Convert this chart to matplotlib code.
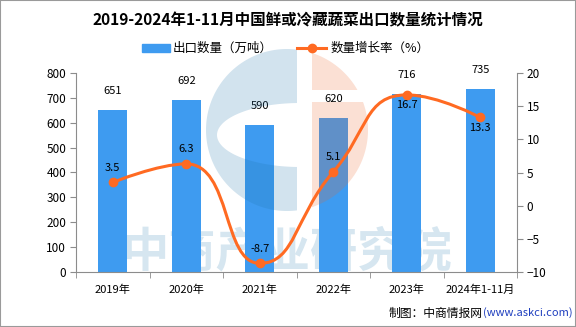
import matplotlib.pyplot as plt
import numpy as np
from matplotlib.path import Path
from matplotlib.patches import PathPatch, Rectangle
from matplotlib.lines import Line2D

plt.rcParams['font.family'] = ['Noto Sans CJK SC', 'DejaVu Sans']

years = ["2019年", "2020年", "2021年", "2022年", "2023年", "2024年1-11月"]
volume = [651, 692, 590, 620, 716, 735]        # 出口数量（万吨）
growth = [3.5, 6.3, -8.7, 5.1, 16.7, 13.3]     # 数量增长率（%）
label_below = [False, False, False, False, True, True]

BAR_C = "#3E9BF0"
LINE_C = "#FF6A22"
AX_C = "#8C8C8C"

W, H = 576, 327
fig = plt.figure(figsize=(W / 100, H / 100), dpi=100)
fig.patches.append(Rectangle((0, 0), 1, 1, transform=fig.transFigure,
                             fill=False, edgecolor="#9A9A9A", lw=1.5))

ax = fig.add_axes([76 / W, 1 - 272 / H, 441 / W, 199 / H])
x = np.arange(len(years))

# watermark text behind the bars
ax.text(2.38, 80, "中商产业研究院", ha="center", va="center", fontsize=34,
        fontweight="bold", color="#D6E6F0", zorder=0)

ax.bar(x, volume, width=0.4, color=BAR_C, zorder=2)
for xi, v in zip(x, volume):
    ax.annotate(str(v), (xi, v), xytext=(0, 10), textcoords="offset points",
                ha="center", va="bottom", fontsize=8)

ax.set_xlim(-0.5, len(years) - 0.5)
ax.set_ylim(0, 800)
ax.set_yticks(range(0, 801, 100))
ax.set_xticks(x)
ax.set_xticklabels(years)
ax.set_xticks(np.arange(-0.5, len(years)), minor=True)
ax.tick_params(axis="x", which="major", length=0, pad=9, labelsize=8)
ax.tick_params(axis="x", which="minor", length=4, color=AX_C)
ax.tick_params(axis="y", length=4, color=AX_C, labelsize=8.5, pad=3)
for s in ("top", "right"):
    ax.spines[s].set_visible(False)
for s in ("left", "bottom"):
    ax.spines[s].set_color(AX_C)

# logo overlay (pixel coordinates), semi transparent over the bars
wm = fig.add_axes([0, 0, 1, 1])
wm.set_xlim(0, W)
wm.set_ylim(H, 0)
wm.axis("off")
wm.set_zorder(ax.get_zorder() + 1)

cx, cy, R = 287, 130, 81
ex, ey, ea, eb = 300, 135, 83, 32
# blue "C": left part of the circle with an elliptical mouth
t_top = np.arccos((297 - cx) / R)
th = np.linspace(-t_top, -(2 * np.pi - t_top), 120)
outer = np.column_stack([cx + R * np.cos(th), cy + R * np.sin(th)])
s_lo = np.arccos((297 - ex) / ea)
ph = np.linspace(s_lo, 2 * np.pi - s_lo, 80)
mouth = np.column_stack([ex + ea * np.cos(ph), ey + eb * np.sin(ph)])
c_shape = np.vstack([outer, mouth])
wm.add_patch(plt.Polygon(c_shape, closed=True, color="#1E73AA", alpha=0.2, lw=0))
# salmon right part with a thin horizontal gap
for y0, y1 in [(cy - R, 90), (102, cy + R)]:
    yy = np.linspace(y0, y1, 60)
    xr = cx + np.sqrt(np.clip(R ** 2 - (yy - cy) ** 2, 0, None))
    xr = np.maximum(xr, 312)
    poly = np.vstack([np.column_stack([xr, yy]), [[312, y1], [312, y0]]])
    wm.add_patch(plt.Polygon(poly, closed=True, color="#EB6428", alpha=0.2, lw=0))

ax2 = ax.twinx()
ax2.set_zorder(wm.get_zorder() + 1)
ax2.patch.set_visible(False)
ax2.set_ylim(-10, 20)
ax2.set_yticks(range(-10, 21, 5))
ax2.tick_params(axis="y", length=4, color=AX_C, labelsize=8.5, pad=3)
for s in ("top", "left", "bottom"):
    ax2.spines[s].set_visible(False)
ax2.spines["right"].set_color(AX_C)


def smooth_path(xs, ys, sx, sy, smooth=0.5):
    # bezier smoothing with control points clamped between neighbours
    P = [(a * sx, b * sy) for a, b in zip(xs, ys)]
    n = len(P)
    verts = [P[0]]
    codes = [Path.MOVETO]
    cp0 = P[0]
    for k in range(1, n):
        px, py = P[k - 1]
        x0, y0 = P[k]
        if k == n - 1:
            cp1 = (x0, y0)
            ncp0 = None
        else:
            nx, ny = P[k + 1]
            vx, vy = nx - px, ny - py
            lp = np.hypot(x0 - px, y0 - py)
            ln = np.hypot(nx - x0, ny - y0)
            r = ln / (ln + lp)
            ncx = x0 + vx * smooth * r
            ncy = y0 + vy * smooth * r
            ncx = max(min(ncx, max(nx, x0)), min(nx, x0))
            ncy = max(min(ncy, max(ny, y0)), min(ny, y0))
            vx, vy = ncx - x0, ncy - y0
            c1x = x0 - vx * lp / ln
            c1y = y0 - vy * lp / ln
            c1x = max(min(c1x, max(px, x0)), min(px, x0))
            c1y = max(min(c1y, max(py, y0)), min(py, y0))
            vx, vy = x0 - c1x, y0 - c1y
            ncp0 = (x0 + vx * ln / lp, y0 + vy * ln / lp)
            cp1 = (c1x, c1y)
        verts += [cp0, cp1, (x0, y0)]
        codes += [Path.CURVE4] * 3
        cp0 = ncp0
    verts = [(a / sx, b / sy) for a, b in verts]
    return Path(verts, codes)


line_path = smooth_path(x, growth, 441 / len(years), 199 / 30)
ax2.add_patch(PathPatch(line_path, fill=False, edgecolor=LINE_C, lw=2.2, zorder=3))
ax2.plot(x, growth, "o", color=LINE_C, ms=6, zorder=4)
for xi, g, below in zip(x, growth, label_below):
    if below:
        ax2.annotate(f"{g}", (xi, g), xytext=(0, -4), textcoords="offset points",
                     ha="center", va="top", fontsize=8, zorder=5)
    else:
        ax2.annotate(f"{g}", (xi, g), xytext=(0, 7), textcoords="offset points",
                     ha="center", va="bottom", fontsize=8, zorder=5)

fig.text(0.5, 1 - 20 / H, "2019-2024年1-11月中国鲜或冷藏蔬菜出口数量统计情况",
         ha="center", va="center", fontsize=11.2, fontweight="bold")

# legend
ly = 1 - 48 / H
fig.patches.append(Rectangle((142 / W, 1 - 52 / H), 28 / W, 8 / H,
                             transform=fig.transFigure, color=BAR_C))
fig.text(173 / W, ly, "出口数量（万吨）", va="center", fontsize=9)
fig.lines.append(Line2D([297 / W, 326 / W], [ly, ly], transform=fig.transFigure,
                        color=LINE_C, lw=2.2))
fig.lines.append(Line2D([311.5 / W], [ly], transform=fig.transFigure,
                        color=LINE_C, marker="o", ms=6, lw=0))
fig.text(331 / W, ly, "数量增长率（%）", va="center", fontsize=9)

fig.text(483 / W, 1 - 313 / H, "制图：中商情报网", ha="right", va="center", fontsize=8.5)
fig.text(483 / W, 1 - 313 / H, "(www.askci.com)", ha="left", va="center",
         fontsize=8, color="#1F3FBF")

fig.savefig("out.png", dpi=100)
